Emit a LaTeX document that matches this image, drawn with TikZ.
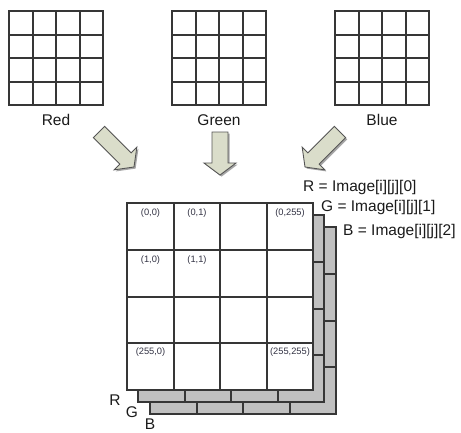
\documentclass[tikz,border=0pt]{standalone}
\usepackage{fontspec}
\setmainfont{Liberation Sans}
\definecolor{linec}{HTML}{363636}
\definecolor{arrfill}{HTML}{DADDCA}
\definecolor{arrline}{HTML}{555555}
\definecolor{layerfill}{HTML}{C0C0C0}
\definecolor{txtc}{HTML}{1A1A1A}
\definecolor{celltxt}{HTML}{333344}
\tikzset{
  gridline/.style={draw=linec, line width=1.7pt},
  biglabel/.style={font=\fontsize{15.5}{18}\selectfont, text=txtc, inner sep=0pt},
  celllabel/.style={font=\fontsize{9.3}{11}\selectfont, text=celltxt, inner sep=0pt},
  blockarr/.style={fill=arrfill, draw=arrline, line width=0.9pt, line join=miter},
  blockshadow/.style={fill=gray!70, draw=none},
}
\newcommand\blkarrow[4]{%
  \fill[blockshadow, shift={(#1+1.6,#2+1.6)}, rotate=#3] (0,-8) -- ({#4-12},-8) -- ({#4-12},-16) -- (#4,0) -- ({#4-12},16) -- ({#4-12},8) -- (0,8) -- cycle;
  \draw[blockarr, shift={(#1,#2)}, rotate=#3] (0,-8) -- ({#4-12},-8) -- ({#4-12},-16) -- (#4,0) -- ({#4-12},16) -- ({#4-12},8) -- (0,8) -- cycle;}
\newcommand\smallgrid[2]{%
  \draw[gridline] (#1,#2) rectangle (#1+94,#2+94);
  \foreach \k in {24,47,71}{
    \draw[gridline] (#1+\k,#2) -- (#1+\k,#2+94);
    \draw[gridline] (#1,#2+\k) -- (#1+94,#2+\k);}}
\newcommand\layer[3]{% x y fill
  \draw[gridline, fill=#3] (#1,#2) rectangle (#1+186,#2+187);
  \foreach \k/\m in {47/47,93/94,140/140}{
    \draw[gridline] (#1+\k,#2) -- (#1+\k,#2+187);
    \draw[gridline] (#1,#2+\m) -- (#1+186,#2+\m);}}
\begin{document}
\begin{tikzpicture}[x=1pt,y=-1pt]
\useasboundingbox (0,0) rectangle (461,432);
% top grids
\smallgrid{9}{11}
\smallgrid{172}{11}
\smallgrid{335}{11}
\node[biglabel] (red) at (56,120) {Red};
\node[biglabel] (green) at (219,120) {Green};
\node[biglabel] (blue) at (382,120) {Blue};
% arrows
\blkarrow{99}{132}{-45}{49.5}
\blkarrow{220}{132}{-90}{43}
\blkarrow{340}{132}{-135}{49.5}
% layers
\layer{150}{227}{layerfill}
\layer{138}{215}{layerfill}
\layer{127}{203}{white}
% cell labels
\node[celllabel] (c00) at (150.5,213) {(0,0)};
\node[celllabel] (c01) at (197,213) {(0,1)};
\node[celllabel] (c0n) at (290,213) {(0,255)};
\node[celllabel] (c10) at (150.5,260) {(1,0)};
\node[celllabel] (c11) at (197,260) {(1,1)};
\node[celllabel] (cn0) at (150.5,352.5) {(255,0)};
\node[celllabel] (cnn) at (290,352.5) {(255,255)};
% formulas
\node[biglabel, anchor=west] (rf) at (303,187) {R = Image[i][j][0]};
\node[biglabel, anchor=west] (gf) at (321,207) {G = Image[i][j][1]};
\node[biglabel, anchor=west] (bf) at (343,231) {B = Image[i][j][2]};
% layer letters
\node[biglabel] (lr) at (115,400) {R};
\node[biglabel] (lg) at (132,412) {G};
\node[biglabel] (lb) at (150,424) {B};
\end{tikzpicture}
\end{document}
